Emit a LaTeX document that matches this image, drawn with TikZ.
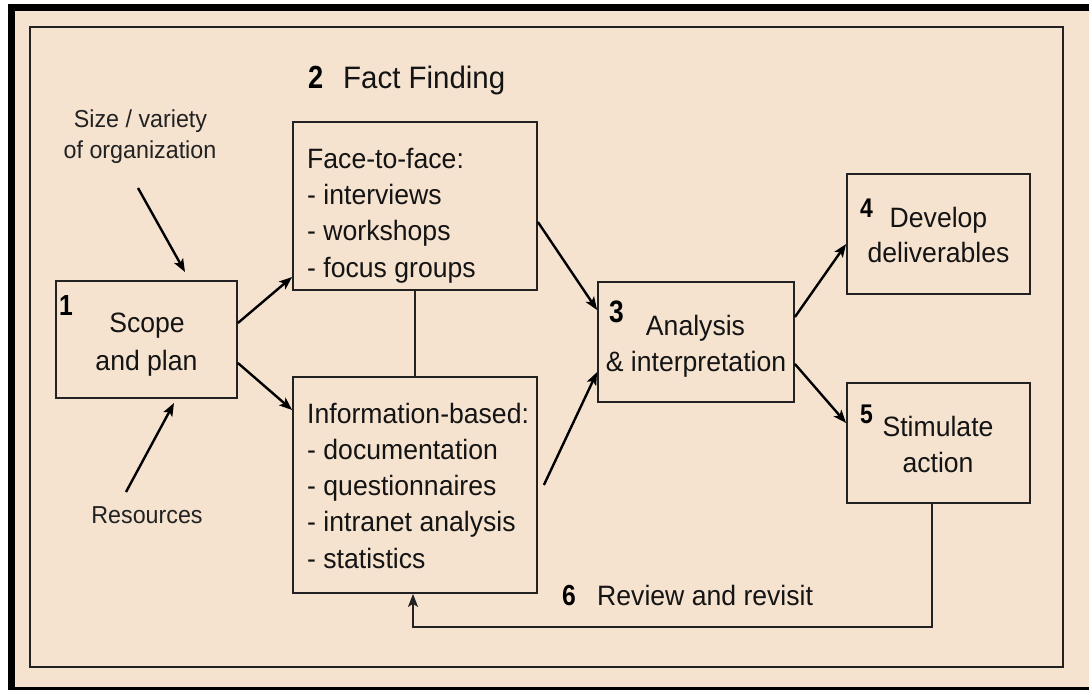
\documentclass[tikz,border=0pt]{standalone}
\usepackage{fontspec}
\setmainfont{Liberation Sans}[FakeStretch=0.95]
\newfontfamily\numfont{Liberation Sans}[FakeStretch=0.85]
\usetikzlibrary{arrows.meta}
\definecolor{paper}{RGB}{245,227,208}
\definecolor{ink}{RGB}{34,34,34}

\begin{document}
\begin{tikzpicture}[x=1pt,y=-1pt,
  box/.style={draw=ink, line width=1.8pt, inner sep=0pt},
  txt/.style={inner sep=0pt, anchor=base, text=black!92, font=\fontsize{28}{34}\selectfont},
  listline/.style={txt, anchor=base west},
  side/.style={inner sep=0pt, anchor=base, text=ink, font=\fontsize{24.5}{30}\selectfont},
  num/.style={inner sep=0pt, anchor=base west, text=black, font=\numfont\bfseries\fontsize{#1}{#1}\selectfont},
  flow/.style={draw=black, line width=2.4pt, -{Stealth[length=13pt,width=10pt,inset=3pt]}},
]
\useasboundingbox (0,0) rectangle (1089,690);

% page, black rule and inner frame
\fill[white] (0,0) rectangle (1089,690);
\fill[black] (8,4) rectangle (1089,690);
\fill[paper] (15,11) rectangle (1089,687);
\draw[ink, line width=1.5pt] (30,27) rectangle (1063,667);

% boxes
\node[box, minimum width=181pt, minimum height=117pt] (scope) at (146.5,339.5) {};
\node[box, minimum width=244pt, minimum height=168pt] (face)  at (415,206) {};
\node[box, minimum width=244pt, minimum height=216pt] (info)  at (415,485) {};
\node[box, minimum width=196pt, minimum height=120pt] (anal)  at (696,342) {};
\node[box, minimum width=183pt, minimum height=120pt] (dev)   at (938.5,234) {};
\node[box, minimum width=183pt, minimum height=120pt] (stim)  at (938.5,443) {};

% step numbers
\node[num=29] (n1) at (59,315) {1};
\node[num=32] (n2) at (308,89) {2};
\node[num=31] (n3) at (609,322) {3};
\node[num=27] (n4) at (860,217) {4};
\node[num=27] (n5) at (860,423) {5};
\node[num=29] (n6) at (562,605) {6};

% headings beside the numbers
\node[txt, anchor=base west, font=\fontsize{31}{36}\selectfont] (factfinding) at (343,89) {Fact Finding};
\node[txt, anchor=base west] (review) at (597,605) {Review and revisit};

% box texts
\node[txt] (scope-a) at (147,332) {Scope};
\node[txt] (scope-b) at (146.5,370) {and plan};
\node[txt] (anal-a) at (695.5,335) {Analysis};
\node[txt] (anal-b) at (696,371) {\& interpretation};
\node[txt] (dev-a) at (938.5,227) {Develop};
\node[txt] (dev-b) at (938.5,262) {deliverables};
\node[txt] (stim-a) at (938,436) {Stimulate};
\node[txt] (stim-b) at (938,472) {action};

\foreach \t [count=\i] in {Face-to-face:, - interviews, - workshops, - focus groups}
  \node[listline] (face-l\i) at (307,{168+36.4*(\i-1)}) {\t};
\foreach \t [count=\i] in {Information-based:, - documentation, - questionnaires, - intranet analysis, - statistics}
  \node[listline] (info-l\i) at (307,{423+36.3*(\i-1)}) {\t};

% side influences
\node[side] (size-a) at (140.5,128) {Size / variety};
\node[side] (size-b) at (140,158) {of organization};
\node[side] (res) at (147,523) {Resources};
\coordinate (size-from) at (138,188);
\coordinate (size-to) at (185,272);
\coordinate (res-from) at (126,492);
\coordinate (res-to) at (174,403);
\draw[flow] (size-from) -- (size-to);
\draw[flow] (res-from) -- (res-to);

% flow between steps
\draw[flow] ([yshift=16.5pt]scope.east) -- ([yshift=-71pt]face.west);
\draw[flow] ([yshift=-23.5pt]scope.east) -- ([yshift=75pt]info.west);
\draw[ink, line width=1.5pt] (face.south) -- (info.north);
\draw[flow] ([yshift=-16pt]face.east) -- ([yshift=32pt]anal.west);
\draw[flow] ([xshift=6pt]info.east) -- ([yshift=-30pt]anal.west);
\draw[flow] ([yshift=25pt]anal.east) -- ([yshift=-10pt]dev.west);
\draw[flow] ([yshift=-22pt]anal.east) -- ([yshift=20pt]stim.west);

% feedback loop
\draw[ink, line width=1.8pt, -{Stealth[length=13pt,width=10pt,inset=3pt]}]
  ([xshift=-6.5pt]stim.south) -- ++(0,123) -| ([xshift=-2pt]info.south);
\end{tikzpicture}
\end{document}
